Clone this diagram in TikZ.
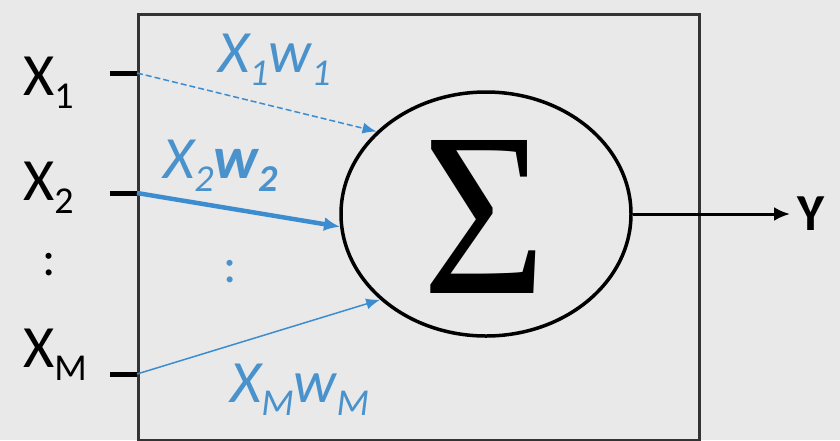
\documentclass[tikz,border=0pt]{standalone}
\usepackage{fontspec}
\setmainfont{Carlito}
\newfontfamily\sigfont{Liberation Serif}
\usepackage{graphicx}
\usetikzlibrary{shapes.geometric,arrows.meta}
\definecolor{bg}{HTML}{E9E9E9}
\definecolor{wblue}{HTML}{3C8DD0}
\definecolor{tblue}{HTML}{4A92CC}
\definecolor{boxline}{HTML}{333333}
\newcommand\bigf{\fontsize{60}{60}\selectfont}
\newcommand\subf{\fontsize{38}{38}\selectfont}
\newcommand\lowsub[1]{\raisebox{-13pt}{\subf #1}}
\tikzset{
  lbl/.style={inner sep=0pt, anchor=base west, font=\bigf},
  wlbl/.style={inner sep=0pt, anchor=base west, font=\bigf\itshape, text=tblue},
  tick/.style={line width=5pt, black},
  wire/.style={wblue, -{Latex[length=14pt,width=11pt]}},
}
\begin{document}
\begin{tikzpicture}[x=1pt,y=-1pt]
\fill[bg] (0,0) rectangle (840,440);
\useasboundingbox (0,0) rectangle (840,440);
% box
\node[draw=boxline, line width=2.5pt, minimum width=561pt, minimum height=426pt, inner sep=0pt, anchor=north west] (box) at (137,13) {};
% sum ellipse
\node[draw=black, line width=3.5pt, ellipse, minimum width=290pt, minimum height=244pt, inner sep=0pt] (sum) at (486,214) {};
\node[inner sep=0pt] (sig) at (484,217) {\resizebox{124pt}{153pt}{\sigfont Σ}};
% output
\coordinate (yend) at (790,214);
\draw[line width=3pt, -{Latex[length=16pt,width=14pt]}] (sum.east) -- (yend);
\node[inner sep=0pt, anchor=west, font=\fontsize{52}{52}\selectfont\bfseries] (y) at (797,214) {Y};
% input labels
\node[lbl] (x1) at (23,95) {X\lowsub{1}};
\node[lbl] (x2) at (23,200) {X\lowsub{2}};
\node[lbl] (xm) at (23,367) {X\lowsub{M}};
\node[inner sep=0pt, font=\fontsize{50}{50}\selectfont] (ldots) at (49,265) {:};
\node[inner sep=0pt, font=\fontsize{50}{50}\selectfont, text=tblue] (idots) at (230,272) {:};
% ticks
\coordinate (t1a) at (110,73); \coordinate (t1) at (137,73);
\coordinate (t2a) at (110,193); \coordinate (t2) at (137,193);
\coordinate (tma) at (110,374); \coordinate (tm) at (137,374);
\draw[tick] (t1a) -- (t1);
\draw[tick] (t2a) -- (t2);
\draw[tick] (tma) -- (tm);
% weighted wires
\draw[wire, line width=1.5pt, dashed, dash pattern=on 6pt off 3pt] (t1) -- (sum.143);
\draw[wire, line width=4.5pt, -{Latex[length=16pt,width=14pt]}] (t2) -- (sum.185);
\draw[wire, line width=1.5pt] (tm) -- (sum.219);
% weight labels
\node[wlbl] (w1) at (218,72) {X\lowsub{1}w\lowsub{1}};
\node[wlbl] (w2) at (163,178) {X\lowsub{2}\textbf{w\lowsub{2}}};
\node[wlbl] (wm) at (230,402) {X\lowsub{M}w\lowsub{M}};
\end{tikzpicture}
\end{document}
